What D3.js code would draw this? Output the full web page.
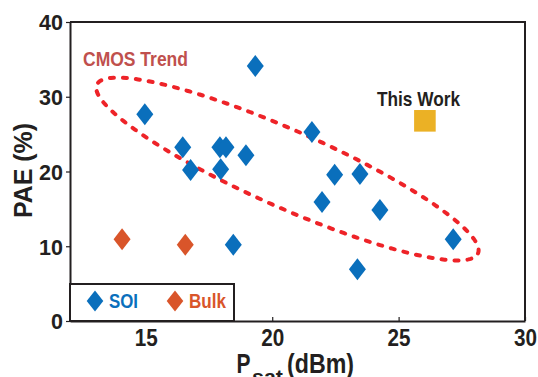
<!DOCTYPE html>
<html>
<head>
<meta charset="utf-8">
<script src="https://cdn.jsdelivr.net/npm/d3@7"></script>
<style>
  body { margin: 0; background: #fff; }
  svg { display: block; font-family: "Liberation Sans", Arial, Helvetica, sans-serif; }
  .axis .domain { stroke: #231f20; stroke-width: 2; }
  .axis .tick line { stroke: #231f20; stroke-width: 1.2; }
  .axis .tick text { fill: #231f20; font-weight: bold; }
</style>
</head>
<body>
<svg id="chart" width="538" height="377"></svg>
<script>
const SOI_PSAT = [14.96, 16.46, 16.77, 17.93, 17.96, 18.17, 18.96, 19.33, 18.46, 21.57, 21.97, 22.47, 23.47, 24.26, 23.37, 27.16];
const SOI_PAE = [27.65, 23.24, 20.2, 23.24, 20.29, 23.24, 22.17, 34.11, 10.21, 25.28, 15.92, 19.57, 19.67, 14.85, 6.92, 10.93];

const BULK_PSAT = [14.06, 16.56];
const BULK_PAE = [10.93, 10.21];

const THIS_WORK_PSAT = [26.04];
const THIS_WORK_PAE = [26.78];

// trend ellipse: centre, end of major axis, end of minor axis (data units)
const TREND_CENTER = [20.6, 20.33];
const TREND_MAJOR = [28.14, 9.04];
const TREND_MINOR = [21.22, 25.03];

const X_TICKS = [15, 20, 25, 30];
const Y_TICKS = [0, 10, 20, 30, 40];
const LEGEND_NAMES = ["SOI", "Bulk"];

const SOI_COLOR = "#0a6fbc";
const BULK_COLOR = "#d9552a";
const WORK_COLOR = "#ebb125";
const TREND_COLOR = "#ee2328";
const TEXT_COLOR = "#231f20";

class ChartPresenter {

  constructor() {
    const self = this;

    self._svg = d3.select("#chart");
    self._x = d3.scaleLinear().domain([12, 30]).range([70, 525]);
    self._y = d3.scaleLinear().domain([0, 40]).range([321, 22]);

    self._diamond = (hw, hh) => `M0,${-hh}L${hw},0L0,${hh}L${-hw},0Z`;
  }

  draw() {
    const self = this;

    self._drawTrend();
    self._drawPoints();
    self._drawAxes();
    self._drawLabels();
    self._drawLegend();
  }

  _drawTrend() {
    const self = this;

    const steps = d3.range(0, 361, 2).map((d) => d * Math.PI / 180);
    const pts = steps.map((t) => {
      const px = TREND_CENTER[0] + Math.cos(t) * (TREND_MAJOR[0] - TREND_CENTER[0])
        + Math.sin(t) * (TREND_MINOR[0] - TREND_CENTER[0]);
      const py = TREND_CENTER[1] + Math.cos(t) * (TREND_MAJOR[1] - TREND_CENTER[1])
        + Math.sin(t) * (TREND_MINOR[1] - TREND_CENTER[1]);
      return [self._x(px), self._y(py)];
    });

    self._svg.append("path")
      .attr("d", d3.line().curve(d3.curveLinearClosed)(pts))
      .attr("fill", "none")
      .attr("stroke", TREND_COLOR)
      .attr("stroke-width", 4)
      .attr("stroke-linecap", "round")
      .attr("stroke-dasharray", "4,9");

    self._svg.append("text")
      .attr("x", 83)
      .attr("y", 65.5)
      .attr("textLength", 105)
      .attr("lengthAdjust", "spacingAndGlyphs")
      .attr("font-size", 21)
      .attr("font-weight", "bold")
      .attr("fill", "#c0504d")
      .text("CMOS Trend");
  }

  _drawPoints() {
    const self = this;

    const soi = SOI_PSAT.map((v, i) => ({"x": v, "y": SOI_PAE[i]}));
    const bulk = BULK_PSAT.map((v, i) => ({"x": v, "y": BULK_PAE[i]}));
    const work = THIS_WORK_PSAT.map((v, i) => ({"x": v, "y": THIS_WORK_PAE[i]}));

    self._svg.append("g").selectAll("path").data(bulk).enter()
      .append("path")
      .attr("d", self._diamond(8.5, 11))
      .attr("transform", (d) => `translate(${self._x(d.x)},${self._y(d.y)})`)
      .attr("fill", BULK_COLOR);

    self._svg.append("g").selectAll("path").data(soi).enter()
      .append("path")
      .attr("d", self._diamond(8.5, 11))
      .attr("transform", (d) => `translate(${self._x(d.x)},${self._y(d.y)})`)
      .attr("fill", SOI_COLOR);

    self._svg.append("g").selectAll("rect").data(work).enter()
      .append("rect")
      .attr("x", (d) => self._x(d.x) - 10.8)
      .attr("y", (d) => self._y(d.y) - 10.8)
      .attr("width", 21.6)
      .attr("height", 21.6)
      .attr("fill", WORK_COLOR);

    self._svg.append("text")
      .attr("x", 377)
      .attr("y", 106)
      .attr("textLength", 83)
      .attr("lengthAdjust", "spacingAndGlyphs")
      .attr("font-size", 21)
      .attr("font-weight", "bold")
      .attr("fill", TEXT_COLOR)
      .text("This Work");
  }

  _drawAxes() {
    const self = this;

    // frame on top and right
    self._svg.append("path")
      .attr("d", `M${self._x(12)},${self._y(40)}H${self._x(30)}V${self._y(0)}`)
      .attr("fill", "none")
      .attr("stroke", TEXT_COLOR)
      .attr("stroke-width", 2);

    const yAxis = self._svg.append("g")
      .classed("axis", true)
      .attr("transform", `translate(${self._x(12)},0)`)
      .call(d3.axisLeft(self._y).tickValues(Y_TICKS).tickSizeInner(4).tickSizeOuter(0).tickPadding(3));

    yAxis.selectAll(".tick text")
      .attr("font-size", 21.5)
      .attr("dy", "0.36em");

    const xAxis = self._svg.append("g")
      .classed("axis", true)
      .attr("transform", `translate(0,${self._y(0)})`)
      .call(d3.axisBottom(self._x).tickValues(X_TICKS).tickSizeInner(-4).tickSizeOuter(0));

    xAxis.selectAll(".tick text")
      .attr("font-size", 24.5)
      .attr("y", 25)
      .attr("dy", 0)
      .attr("textLength", 23)
      .attr("lengthAdjust", "spacingAndGlyphs");
  }

  _drawLabels() {
    const self = this;

    self._svg.append("text")
      .attr("transform", "translate(32,170.5) rotate(-90)")
      .attr("text-anchor", "middle")
      .attr("textLength", 95)
      .attr("lengthAdjust", "spacingAndGlyphs")
      .attr("font-size", 26.5)
      .attr("font-weight", "bold")
      .attr("fill", TEXT_COLOR)
      .text("PAE (%)");

    const xLabel = self._svg.append("g")
      .attr("font-weight", "bold")
      .attr("fill", TEXT_COLOR);

    xLabel.append("text")
      .attr("x", 236.5)
      .attr("y", 373)
      .attr("font-size", 28)
      .attr("textLength", 14)
      .attr("lengthAdjust", "spacingAndGlyphs")
      .text("P");

    xLabel.append("text")
      .attr("x", 252)
      .attr("y", 384)
      .attr("font-size", 20)
      .attr("textLength", 31)
      .attr("lengthAdjust", "spacingAndGlyphs")
      .text("sat");

    xLabel.append("text")
      .attr("x", 287)
      .attr("y", 373)
      .attr("font-size", 28)
      .attr("textLength", 67)
      .attr("lengthAdjust", "spacingAndGlyphs")
      .text("(dBm)");
  }

  _drawLegend() {
    const self = this;

    const legend = self._svg.append("g");

    legend.append("rect")
      .attr("x", self._x(12))
      .attr("y", 284)
      .attr("width", 164)
      .attr("height", self._y(0) - 284)
      .attr("fill", "#fff")
      .attr("stroke", TEXT_COLOR)
      .attr("stroke-width", 2);

    const colors = [SOI_COLOR, BULK_COLOR];
    const offsets = [95, 175];
    const items = legend.selectAll(".legend-item").data(LEGEND_NAMES).enter()
      .append("g")
      .classed("legend-item", true)
      .attr("transform", (d, i) => `translate(${offsets[i]},301)`);

    items.append("path")
      .attr("d", self._diamond(8.3, 10.5))
      .attr("fill", (d, i) => colors[i]);

    items.append("text")
      .attr("x", 14)
      .attr("y", 6.5)
      .attr("font-size", 19.5)
      .attr("font-weight", "bold")
      .attr("textLength", (d) => d === "SOI" ? 29 : 37)
      .attr("lengthAdjust", "spacingAndGlyphs")
      .attr("fill", (d, i) => colors[i])
      .text((d) => d);
  }

}

new ChartPresenter().draw();
</script>
</body>
</html>
